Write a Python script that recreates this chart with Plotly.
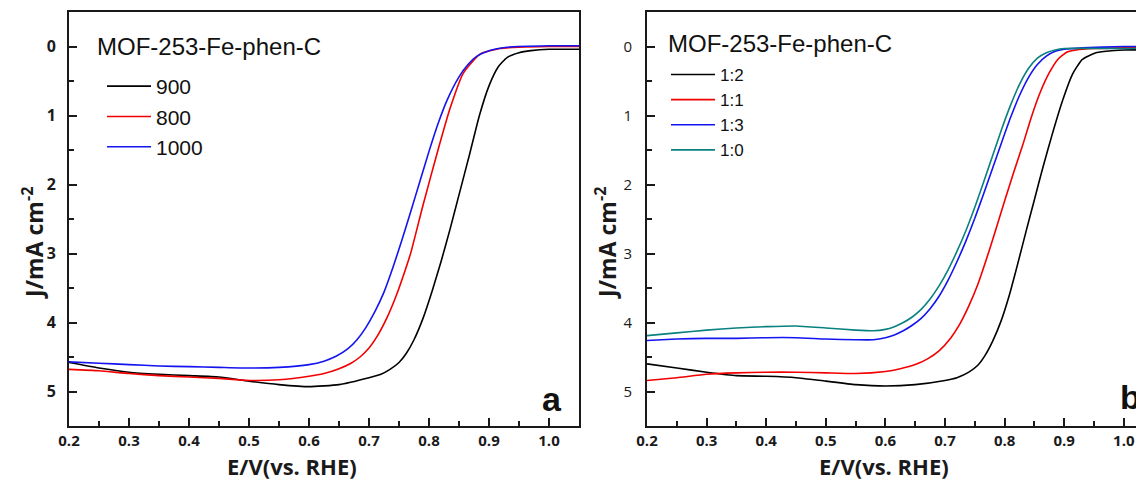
import plotly.graph_objects as go

# The page body keeps the browser's default 8 px margin, so the figure is drawn
# 8 px smaller and every reference pixel position is shifted by that offset.
OFF = 8
W, H = 1144 - OFF, 480 - OFF

# ---------------- Panel a data (E in V vs RHE, J in mA cm^-2) ----------------
a_900_E = [0.20, 0.25, 0.30, 0.35, 0.40, 0.45, 0.50, 0.55, 0.60, 0.65, 0.70, 0.72, 0.735, 0.75, 0.762,
           0.775, 0.79, 0.805, 0.82, 0.835, 0.85, 0.868, 0.884, 0.90, 0.915, 0.93, 0.95, 0.97, 1.00, 1.05]
a_900_J = [4.58, 4.66, 4.72, 4.75, 4.77, 4.79, 4.85, 4.90, 4.93, 4.90, 4.80, 4.75, 4.68, 4.58, 4.45,
           4.25, 3.94, 3.55, 3.12, 2.65, 2.15, 1.55, 1.00, 0.57, 0.30, 0.16, 0.09, 0.06, 0.04, 0.04]

a_800_E = [0.20, 0.25, 0.30, 0.35, 0.40, 0.45, 0.50, 0.55, 0.60, 0.625, 0.65, 0.67, 0.685, 0.70, 0.715,
           0.73, 0.745, 0.76, 0.77, 0.79, 0.815, 0.835, 0.857, 0.885, 0.918, 0.95, 1.00, 1.05]
a_800_J = [4.68, 4.70, 4.74, 4.77, 4.79, 4.81, 4.84, 4.83, 4.78, 4.74, 4.67, 4.59, 4.50, 4.37, 4.18,
           3.93, 3.62, 3.25, 2.98, 2.30, 1.50, 0.90, 0.39, 0.11, 0.03, 0.01, 0.00, 0.00]

a_1000_E = [0.20, 0.25, 0.30, 0.35, 0.40, 0.45, 0.50, 0.55, 0.60, 0.625, 0.645, 0.665, 0.68, 0.695, 0.71,
            0.725, 0.74, 0.755, 0.77, 0.785, 0.80, 0.815, 0.83, 0.85, 0.865, 0.88, 0.90, 0.93, 1.00, 1.05]
a_1000_J = [4.57, 4.59, 4.61, 4.63, 4.64, 4.65, 4.66, 4.65, 4.61, 4.56, 4.49, 4.38, 4.25, 4.07, 3.84,
            3.56, 3.20, 2.80, 2.38, 1.95, 1.52, 1.12, 0.78, 0.44, 0.26, 0.14, 0.06, 0.01, -0.01, -0.01]

# ---------------- Panel b data ----------------
b_12_E = [0.20, 0.25, 0.30, 0.35, 0.40, 0.45, 0.50, 0.55, 0.60, 0.65, 0.70, 0.72, 0.74, 0.755, 0.767,
          0.78, 0.794, 0.808, 0.822, 0.836, 0.85, 0.864, 0.88, 0.897, 0.914, 0.93, 0.95, 0.97, 1.00, 1.05]
b_12_J = [4.60, 4.66, 4.72, 4.77, 4.78, 4.80, 4.85, 4.90, 4.92, 4.90, 4.84, 4.80, 4.72, 4.62, 4.48,
          4.27, 3.98, 3.60, 3.15, 2.68, 2.22, 1.76, 1.27, 0.79, 0.40, 0.19, 0.10, 0.07, 0.05, 0.05]

b_11_E = [0.20, 0.25, 0.30, 0.35, 0.40, 0.45, 0.50, 0.55, 0.60, 0.625, 0.65, 0.67, 0.69, 0.71, 0.725,
          0.74, 0.755, 0.77, 0.785, 0.80, 0.815, 0.83, 0.845, 0.86, 0.875, 0.89, 0.905, 0.92, 0.95, 1.00, 1.05]
b_11_J = [4.84, 4.80, 4.75, 4.73, 4.72, 4.72, 4.73, 4.74, 4.71, 4.67, 4.61, 4.53, 4.41, 4.22, 4.02,
          3.76, 3.45, 3.07, 2.66, 2.24, 1.83, 1.44, 1.02, 0.66, 0.38, 0.18, 0.08, 0.05, 0.03, 0.02, 0.02]

b_13_E = [0.20, 0.25, 0.30, 0.35, 0.40, 0.45, 0.50, 0.55, 0.58, 0.60, 0.615, 0.63, 0.645, 0.66, 0.675,
          0.69, 0.705, 0.72, 0.735, 0.75, 0.765, 0.78, 0.795, 0.81, 0.825, 0.84, 0.855, 0.87, 0.885,
          0.90, 0.93, 1.00, 1.05]
b_13_J = [4.26, 4.24, 4.23, 4.23, 4.22, 4.22, 4.24, 4.25, 4.25, 4.22, 4.18, 4.12, 4.04, 3.94, 3.80,
          3.62, 3.39, 3.12, 2.82, 2.49, 2.13, 1.76, 1.39, 1.03, 0.71, 0.45, 0.26, 0.14, 0.07,
          0.04, 0.02, 0.00, 0.00]

b_10_E = [0.20, 0.25, 0.30, 0.35, 0.40, 0.45, 0.50, 0.55, 0.58, 0.60, 0.615, 0.63, 0.645, 0.66, 0.675,
          0.69, 0.705, 0.72, 0.735, 0.75, 0.765, 0.78, 0.795, 0.81, 0.825, 0.84, 0.855, 0.87, 0.885,
          0.90, 1.00, 1.05]
b_10_J = [4.19, 4.15, 4.11, 4.08, 4.06, 4.05, 4.08, 4.11, 4.12, 4.10, 4.06, 4.00, 3.92, 3.81, 3.66,
          3.47, 3.24, 2.97, 2.67, 2.33, 1.96, 1.58, 1.20, 0.85, 0.55, 0.32, 0.17, 0.09, 0.05,
          0.03, 0.03, 0.03]

legend_title = "MOF-253-Fe-phen-C"
x_title = "E/V(vs. RHE)"
y_title = "J/mA cm<sup>-2</sup>"
x_ticks = [0.2, 0.3, 0.4, 0.5, 0.6, 0.7, 0.8, 0.9, 1.0]
y_ticks = [0, 1, 2, 3, 4, 5]

BLACK, RED, BLUE, TEAL = "#000000", "#f20000", "#1414f0", "#0a8080"

fig = go.Figure()

def add(E, J, name, color, xa, ya, leg):
    fig.add_trace(go.Scatter(x=E, y=J, mode="lines", name=name, xaxis=xa, yaxis=ya,
                             legend=leg, line=dict(color=color, width=1.6, shape="spline", smoothing=0.5)))

add(a_900_E, a_900_J, "900", BLACK, "x", "y", "legend")
add(a_800_E, a_800_J, "800", RED, "x", "y", "legend")
add(a_1000_E, a_1000_J, "1000", BLUE, "x", "y", "legend")

add(b_12_E, b_12_J, "1:2", BLACK, "x2", "y2", "legend2")
add(b_11_E, b_11_J, "1:1", RED, "x2", "y2", "legend2")
add(b_13_E, b_13_J, "1:3", BLUE, "x2", "y2", "legend2")
add(b_10_E, b_10_J, "1:0", TEAL, "x2", "y2", "legend2")

# convert screenshot pixel positions into paper fractions
def px(x):
    return (x - OFF) / W

def py(y):
    return 1 - (y - OFF) / H

ydom = [py(426), py(12)]
AX = "#1a1a1a"
axis_common = dict(showline=True, linewidth=2, linecolor=AX, showgrid=False, zeroline=False,
                   ticks="inside", ticklen=8, tickwidth=2, tickcolor=AX, automargin=False)

xfont = dict(family="Open Sans", size=15, color=AX, weight="bold")
xminor = dict(dtick=0.05, tick0=0.2, ticks="inside", ticklen=5, tickwidth=2, tickcolor=AX)
yminor = dict(dtick=0.5, tick0=0, ticks="inside", ticklen=5, tickwidth=2, tickcolor=AX)

# right panel is cropped at the image edge (same 0.1 V = 59.6 px scale)
x2_max = 0.2 + (1144 - 647) / 596.0

fig.update_layout(
    width=W, height=H,
    margin=dict(l=0, r=0, t=0, b=0),
    paper_bgcolor="white", plot_bgcolor="white",
    xaxis=dict(domain=[px(69), px(579)], range=[0.2, 1.05], tickvals=x_ticks, tickformat=".1f",
               mirror=True, anchor="y", tickfont=xfont, ticklabelstandoff=0, minor=xminor, **axis_common),
    yaxis=dict(domain=ydom, range=[5.5, -0.5], tickvals=y_ticks, mirror=True, anchor="x",
               tickfont=dict(family="Open Sans", size=16, color=AX, weight="bold"), ticklabelstandoff=8,
               minor=yminor, **axis_common),
    xaxis2=dict(domain=[px(647), 1.0], range=[0.2, x2_max], tickvals=x_ticks, tickformat=".1f",
                mirror=True, anchor="y2", tickfont=xfont, ticklabelstandoff=0, minor=xminor, **axis_common),
    yaxis2=dict(domain=ydom, range=[5.5, -0.5], tickvals=y_ticks, mirror=False, anchor="x2",
                tickfont=dict(family="Open Sans", size=15, color=AX), ticklabelstandoff=10,
                minor=yminor, **axis_common),
    legend=dict(x=px(102), y=py(66), xanchor="left", yanchor="top", bgcolor="rgba(0,0,0,0)",
                font=dict(family="Liberation Sans", size=21, color="#111"), itemwidth=44,
                tracegroupgap=0),
    legend2=dict(x=px(666), y=py(57), xanchor="left", yanchor="top", bgcolor="rgba(0,0,0,0)",
                 font=dict(family="Liberation Sans", size=17, color="#111"), itemwidth=44,
                 tracegroupgap=0),
    showlegend=True,
)

# legend titles
for xx, yy in ((95, 46), (666, 43)):
    fig.add_annotation(x=px(xx), y=py(yy), xref="paper", yref="paper", text=legend_title,
                       showarrow=False, xanchor="left", yanchor="middle",
                       font=dict(family="Liberation Sans", size=24, color="#111"))

for xx in (33, 606):
    fig.add_annotation(x=px(xx), y=py(243), xref="paper", yref="paper", text=y_title, textangle=-90,
                       showarrow=False, xanchor="center", yanchor="middle",
                       font=dict(family="Open Sans", size=23, color=AX, weight="bold"))
for xx in (292, 884):
    fig.add_annotation(x=px(xx), y=py(466), xref="paper", yref="paper", text=x_title,
                       showarrow=False, xanchor="center", yanchor="middle",
                       font=dict(family="Open Sans", size=22, color=AX, weight="bold"))

lab_font = dict(family="Liberation Sans", size=34, color="#111", weight="bold")
fig.add_annotation(x=px(552), y=py(399), xref="paper", yref="paper", text="a", showarrow=False,
                   font=lab_font, xanchor="center", yanchor="middle")
fig.add_annotation(x=px(1130), y=py(397), xref="paper", yref="paper", text="b", showarrow=False,
                   font=lab_font, xanchor="center", yanchor="middle")

fig.write_html("out.html")
